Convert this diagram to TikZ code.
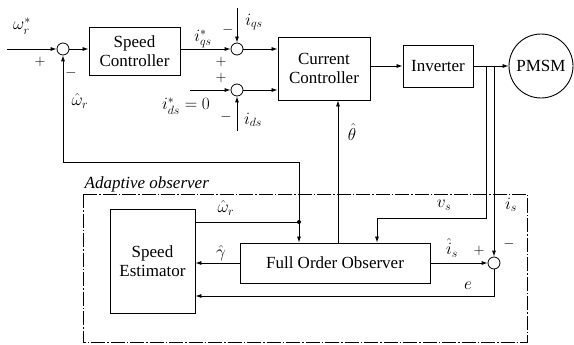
\documentclass[tikz,border=0pt]{standalone}
\usepackage{fontspec}
\setmainfont{Liberation Serif}
\usetikzlibrary{arrows.meta,calc}
\begin{document}
\begin{tikzpicture}[x=1pt,y=-1pt,
  every node/.style={font=\fontsize{17}{19}\selectfont},
  blk/.style={draw,line width=0.9pt,align=center,inner sep=0pt},
  sumj/.style={draw,circle,line width=0.8pt,minimum size=12pt,inner sep=0pt},
  con/.style={line width=0.8pt},
  arr/.style={con,-{Latex[length=6pt,width=4pt]}},
  lbl/.style={inner sep=0.5pt},
  sgn/.style={inner sep=0pt,font=\fontsize{15}{15}\selectfont}]
\useasboundingbox (0,0) rectangle (574,345);
% nodes
\coordinate (in) at (7,49);
\node[sumj] (s1) at (63,49) {};
\node[blk,minimum width=91pt,minimum height=48pt] (sc) at (134.5,51) {Speed\\Controller};
\node[sumj] (s2) at (237,49) {};
\node[sumj] (s3) at (237,90) {};
\coordinate (iqs) at (237,8);
\coordinate (idsin) at (190,90);
\coordinate (ids) at (237,131);
\node[blk,minimum width=92pt,minimum height=63pt] (cc) at (324,68.5) {Current\\Controller};
\node[blk,minimum width=70pt,minimum height=42pt] (inv) at (438,66) {Inverter};
\node[draw,circle,line width=0.9pt,minimum size=64pt,inner sep=0pt] (pm) at (541,66) {PMSM};
\node[blk,minimum width=190pt,minimum height=40pt] (foo) at (335,263) {Full Order Observer};
\node[blk,minimum width=85pt,minimum height=104pt] (se) at (152.5,261) {Speed\\Estimator};
\node[sumj] (s4) at (494,263) {};
\coordinate (d) at (299,222);
\coordinate (tv) at (486,66);
\coordinate (ti) at (494,66);
% dashed observer box
\draw[line width=0.7pt,dash pattern=on 14pt off 2pt on 1.5pt off 2pt] (83,194) rectangle (527,342);
\node[lbl,anchor=south west,font=\fontsize{17}{19}\selectfont\itshape] (ao) at (84,193) {Adaptive observer};
% top loop
\draw[arr] (in) -- (s1);
\draw[arr] (s1) -- (s1 -| sc.west);
\draw[arr] (s2 -| sc.east) -- (s2);
\draw[arr] (iqs) -- (s2);
\draw[arr] (idsin) -- (s3);
\draw[arr] (ids) -- (s3);
\draw[arr] (s2) -- (s2 -| cc.west);
\draw[arr] (s3) -- (s3 -| cc.west);
\draw[arr] (cc.east |- inv) -- (inv.west |- inv);
\draw[arr] (inv) -- (pm);
% feedback of speed
\draw[arr] (d) -- (299,162) -- (63,162) -- (s1);
\draw[con] (se.east |- d) -- (d);
\fill (d) circle (2pt);
\draw[arr] (d) -- (d |- foo.north);
% theta
\draw[arr] (foo.north -| 338,0) -- (cc.south -| 338,0);
% vs
\draw[arr] (tv) -- (486,218) -- (377,218) -- (377,0 |- foo.north);
% is
\draw[arr] (ti) -- (s4);
\draw[arr] (foo.east |- s4) -- (s4);
\draw[arr] (s4) -- (494,296) -- (se.east |- 0,296);
\draw[arr] (foo.west |- 0,263) -- (se.east |- 0,263);
% labels
\node[lbl] at (22,26) {$\omega_r^{*}$};
\node[sgn] at (40,62) {$+$};
\node[sgn] at (71,73) {$-$};
\node[lbl] at (80,101) {$\hat{\omega}_r$};
\node[lbl] at (203,39) {$i^{*}_{qs}$};
\node[lbl] at (254,22) {$i_{qs}$};
\node[sgn] at (228,30) {$-$};
\node[sgn] at (221,62) {$+$};
\node[sgn] at (221,78) {$+$};
\node[lbl] at (186,106) {$i^{*}_{ds}=0$};
\node[sgn] at (226,117) {$-$};
\node[lbl] at (253,120) {$i_{ds}$};
\node[lbl] at (352,132) {$\hat{\theta}$};
\node[lbl] at (226,208) {$\hat{\omega}_r$};
\node[lbl] at (221,253) {$\hat{\gamma}$};
\node[lbl] at (444,205) {$v_s$};
\node[lbl] at (511,205) {$i_s$};
\node[sgn] at (509,244) {$-$};
\node[lbl] at (452,248) {$\hat{i}_s$};
\node[sgn] at (479,251) {$+$};
\node[lbl] at (468,286) {$e$};
\end{tikzpicture}
\end{document}
